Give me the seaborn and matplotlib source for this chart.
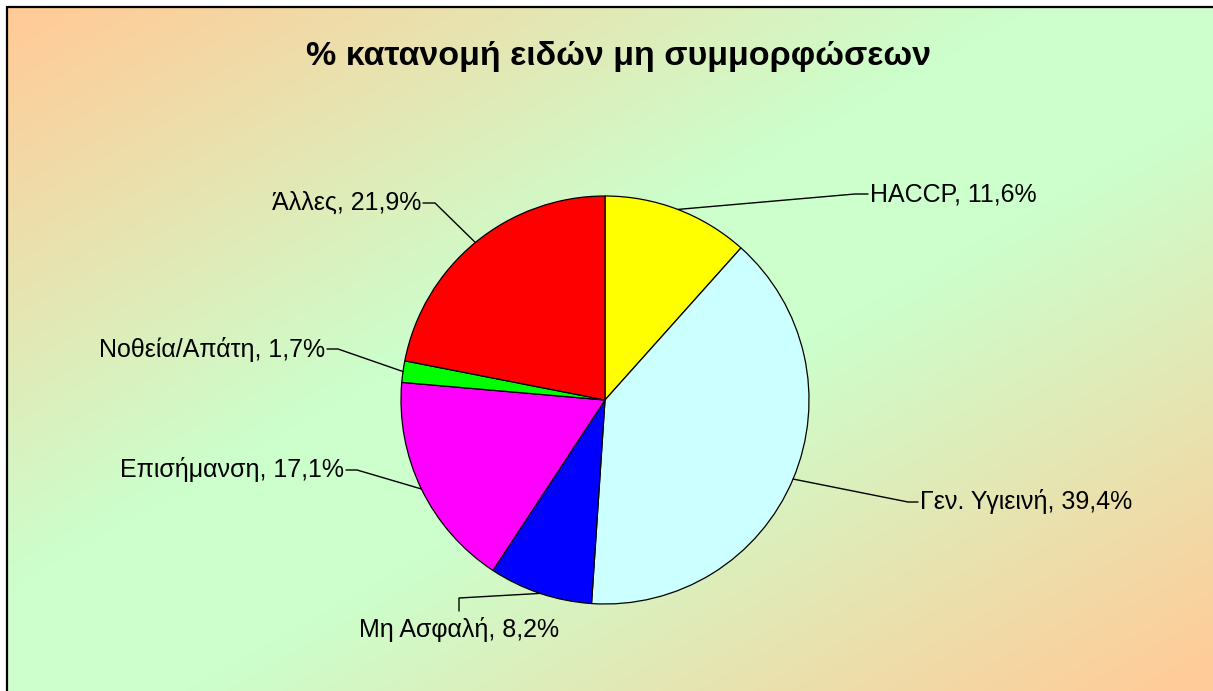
import numpy as np
import matplotlib
matplotlib.use("Agg")
import matplotlib.pyplot as plt
from matplotlib.colors import to_rgb
import seaborn as sns

categories = ['HACCP', 'Γεν. Υγιεινή', 'Μη Ασφαλή', 'Επισήμανση', 'Νοθεία/Απάτη', 'Άλλες']
shares = [11.6, 39.4, 8.2, 17.1, 1.7, 21.9]
slice_colors = ['#FFFF00', '#CCFFFF', '#0000FF', '#FF00FF', '#00FF00', '#FF0000']
title = '% κατανομή ειδών μη συμμορφώσεων'

sns.set_theme(style='white')
plt.rcParams['font.family'] = ['Liberation Sans', 'DejaVu Sans']

W, H = 1213, 691
fig = plt.figure(figsize=(W / 100, H / 100), dpi=100)
fig.patch.set_facecolor('white')
ax = fig.add_axes([0, 0, 1, 1])

# diagonal background: peach -> light green -> peach
orange = np.array(to_rgb('#FFCC99'))
green = np.array(to_rgb('#CCFFCC'))
xx, yy = np.meshgrid(np.linspace(0, 1, 600), np.linspace(0, 1, 340))
d = np.abs(xx + yy - 1)
w = np.clip((0.95 - d) / 0.8, 0, 1)[..., None]
bg = orange * (1 - w) + green * w
ax.imshow(bg, extent=(7, W, 0, H - 7), origin='upper', aspect='auto', zorder=0)

# frame lines (top and left only)
ax.plot([7, W], [H - 7, H - 7], color='black', lw=1.6, zorder=1)
ax.plot([7, 7], [0, H - 7], color='black', lw=1.6, zorder=1)

cx, cy, r = 605, H - 400, 204
wedges, _ = ax.pie(shares, colors=slice_colors, startangle=90, counterclock=False,
                   center=(cx, cy), radius=r, frame=True,
                   wedgeprops=dict(edgecolor='black', linewidth=0.9))

# label elbows / text anchors (image pixel coords)
layout = [
    ((855, 194), (868, 194), 'left'),
    ((908, 502), (918, 502), 'left'),
    ((459, 598), (459, 611), 'center'),
    ((357, 470), (346, 470), 'right'),
    ((338, 349), (327, 349), 'right'),
    ((435, 203), (423, 203), 'right'),
]

for wdg, name, val, (elbow, end, ha) in zip(wedges, categories, shares, layout):
    mid = np.deg2rad((wdg.theta1 + wdg.theta2) / 2)
    px, py = cx + r * np.cos(mid), cy + r * np.sin(mid)
    ex, ey = elbow[0], H - elbow[1]
    tx, ty = end[0], H - end[1]
    ax.plot([px, ex, tx], [py, ey, ty], color='black', lw=1, zorder=3)
    txt = f"{name}, " + f"{val:.1f}".replace('.', ',') + "%"
    if ha == 'center':
        ax.text(tx, ty - 6, txt, ha='center', va='top', fontsize=18, color='black')
    else:
        off = 2 if ha == 'left' else -2
        ax.text(tx + off, ty, txt, ha=ha, va='center', fontsize=18, color='black')

ax.text(618, H - 56, title, ha='center', va='center', fontsize=24.5,
        fontweight='bold', color='black')

ax.set_xlim(0, W)
ax.set_ylim(0, H)
ax.set_aspect('equal')
ax.axis('off')

fig.savefig('out.png', dpi=100)
